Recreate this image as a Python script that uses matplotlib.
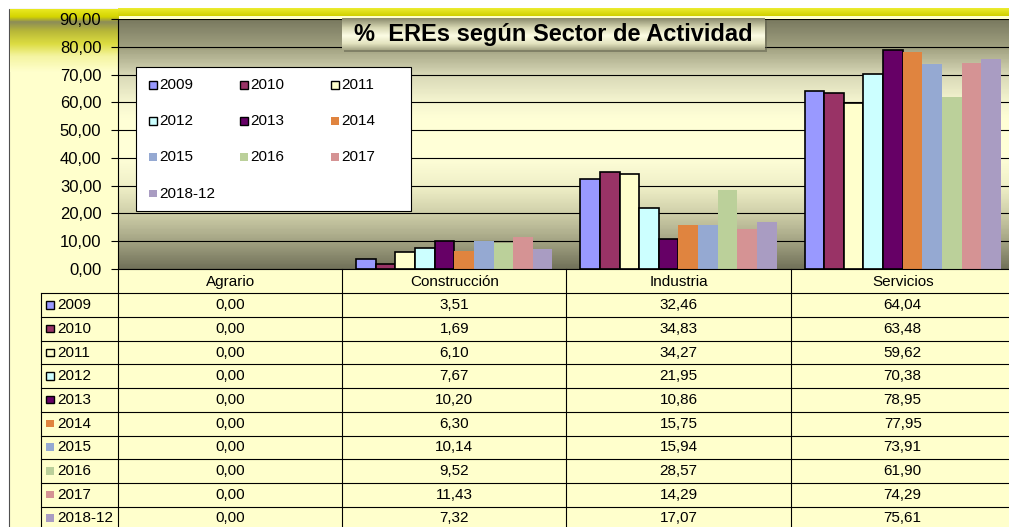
import numpy as np
import matplotlib.pyplot as plt
from matplotlib.colors import LinearSegmentedColormap
from matplotlib.patches import Rectangle
from matplotlib.ticker import FuncFormatter

plt.rcParams['font.family'] = ['Liberation Sans', 'DejaVu Sans']

# Datos
sectores = ['Agrario', 'Construcción', 'Industria', 'Servicios']
anios = ['2009', '2010', '2011', '2012', '2013', '2014', '2015', '2016', '2017', '2018-12']
v2009 = [0.00, 3.51, 32.46, 64.04]
v2010 = [0.00, 1.69, 34.83, 63.48]
v2011 = [0.00, 6.10, 34.27, 59.62]
v2012 = [0.00, 7.67, 21.95, 70.38]
v2013 = [0.00, 10.20, 10.86, 78.95]
v2014 = [0.00, 6.30, 15.75, 77.95]
v2015 = [0.00, 10.14, 15.94, 73.91]
v2016 = [0.00, 9.52, 28.57, 61.90]
v2017 = [0.00, 11.43, 14.29, 74.29]
v2018 = [0.00, 7.32, 17.07, 75.61]
valores = [v2009, v2010, v2011, v2012, v2013, v2014, v2015, v2016, v2017, v2018]

colores = ['#9999FF', '#993366', '#FFFFCC', '#CCFFFF', '#660066',
           '#E0843F', '#95A9D2', '#BBD09A', '#D59394', '#A99CC2']
con_borde = [True, True, True, True, True, False, False, False, False, False]

titulo = '%  EREs según Sector de Actividad'


def fmt(v):
    return f'{v:.2f}'.replace('.', ',')


W, H = 1009, 527
fig = plt.figure(figsize=(W / 100, H / 100), dpi=100)
fig.patch.set_facecolor('white')

# capa de fondo (coordenadas en píxeles)
bg = fig.add_axes([0, 0, 1, 1], zorder=0)
bg.set_xlim(0, W)
bg.set_ylim(H, 0)
bg.axis('off')
bg.add_patch(Rectangle((8.5, 8.5), 1100, 600, facecolor='#FFFFCC',
                       edgecolor='#505050', lw=0.8, zorder=0.5))
franja = LinearSegmentedColormap.from_list('franja', [
    (0.0, '#E8E820'), (0.12, '#D4D400'), (0.2, '#8C8C58'), (0.35, '#B8B838'),
    (0.55, '#DCDC40'), (0.75, '#F4F4A0'), (1.0, '#FFFFCC')])
bg.imshow(np.linspace(0, 1, 100).reshape(-1, 1), cmap=franja, aspect='auto',
          extent=[9.5, 118, 72, 9], zorder=1)
amarillo = LinearSegmentedColormap.from_list('amarillo', ['#ECEC30', '#D0D000'])
bg.imshow(np.linspace(0, 1, 20).reshape(-1, 1), cmap=amarillo, aspect='auto',
          extent=[118, W, 16.5, 9], zorder=1)
bg.set_xlim(0, W)
bg.set_ylim(H, 0)

# gráfico principal
paso = 224.2
x0, ytop, ybot = 118, 19, 269
ax = fig.add_axes([x0 / W, 1 - ybot / H, 4 * paso / W, (ybot - ytop) / H], zorder=1)
fondo = LinearSegmentedColormap.from_list('fondo', [
    (0.0, '#72725A'), (0.11, '#A4A484'), (0.22, '#CFCFA9'), (0.33, '#F0F0C8'),
    (0.45, '#FFFFD8'), (0.6, '#FFFFD6'), (0.67, '#F5F5D0'), (0.78, '#D8D8B6'),
    (0.89, '#A0A080'), (1.0, '#7A7A60')])
ax.imshow(np.linspace(0, 1, 200).reshape(-1, 1), cmap=fondo, origin='lower',
          aspect='auto', extent=[0, 4, 0, 90], zorder=0)

ancho = 0.0875
margen = (1 - ancho * len(anios)) / 2
x = np.arange(len(sectores))
for i, (vals, col, borde) in enumerate(zip(valores, colores, con_borde)):
    grosor = [1.2 if (borde and v > 0) else 0 for v in vals]
    ax.bar(x + margen + i * ancho, vals, width=ancho, align='edge', color=col,
           edgecolor='black' if borde else col, linewidth=grosor, zorder=3)

ax.set_xlim(0, 4)
ax.set_ylim(0, 90)
ax.set_yticks(np.arange(0, 91, 10))
ax.yaxis.set_major_formatter(FuncFormatter(lambda v, _: fmt(v)))
ax.tick_params(axis='y', length=5, width=0.8, pad=7, labelsize=12)
ax.set_xticks([])
ax.grid(axis='y', color='black', linewidth=0.8, zorder=1)
for s in ['top', 'right', 'bottom']:
    ax.spines[s].set_visible(False)
ax.spines['left'].set_linewidth(0.8)

# capa superior: título, leyenda y tabla
fg = fig.add_axes([0, 0, 1, 1], zorder=3)
fg.axis('off')
fg.patch.set_alpha(0)

# título
fg.add_patch(Rectangle((344, 20), 423, 32, facecolor='#5A5A48', edgecolor='none', alpha=0.5))
caja = LinearSegmentedColormap.from_list('caja', [
    (0.0, '#8A8A6C'), (0.3, '#D8D8B4'), (0.55, '#FCFCE4'), (0.8, '#E4E4C0'), (1.0, '#A8A888')])
fg.imshow(np.linspace(0, 1, 50).reshape(-1, 1), cmap=caja, aspect='auto',
          extent=[342, 765, 50, 18], zorder=2)
fg.text(553.5, 34.5, titulo, ha='center', va='center', fontsize=17,
        fontweight='bold', zorder=3)

# leyenda
fg.add_patch(Rectangle((135.5, 66.5), 275, 144, facecolor='white',
                       edgecolor='black', lw=0.8, zorder=2))
for i, (lab, col, borde) in enumerate(zip(anios, colores, con_borde)):
    fila, columna = divmod(i, 3)
    mx = 149 + columna * 91
    my = 85 + fila * 36.2
    fg.add_patch(Rectangle((mx, my - 4), 7.5, 7.5, facecolor=col,
                           edgecolor='black' if borde else col,
                           lw=1.0 if borde else 0, zorder=3))
    fg.text(mx + 10.5, my, lab, ha='left', va='center', fontsize=11, zorder=3)

# tabla de datos
alto = 23.7
y_tab = 293.3
n = len(anios)
lw_t = 0.8
fg.plot([x0, x0 + 4 * paso], [ybot, ybot], color='black', lw=lw_t)
for j in range(n + 1):
    yy = y_tab + j * alto
    fg.plot([40.5, x0 + 4 * paso], [yy, yy], color='black', lw=lw_t)
fg.plot([40.5, 40.5], [y_tab, H], color='black', lw=lw_t)
for k in range(5):
    xx = x0 + k * paso
    fg.plot([xx, xx], [ybot, H], color='black', lw=lw_t)
for k, sec in enumerate(sectores):
    fg.text(x0 + (k + 0.5) * paso, (ybot + y_tab) / 2 + 0.5, sec,
            ha='center', va='center', fontsize=11)
for j, (lab, col, borde, vals) in enumerate(zip(anios, colores, con_borde, valores)):
    yc = y_tab + (j + 0.5) * alto
    fg.add_patch(Rectangle((46, yc - 4), 7.5, 7.5, facecolor=col,
                           edgecolor='black' if borde else col,
                           lw=1.0 if borde else 0))
    fg.text(57, yc, lab, ha='left', va='center', fontsize=11)
    for k, v in enumerate(vals):
        fg.text(x0 + (k + 0.5) * paso, yc, fmt(v), ha='center', va='center',
                fontsize=11)

fg.set_xlim(0, W)
fg.set_ylim(H, 0)

fig.savefig('out.png', dpi=100)
